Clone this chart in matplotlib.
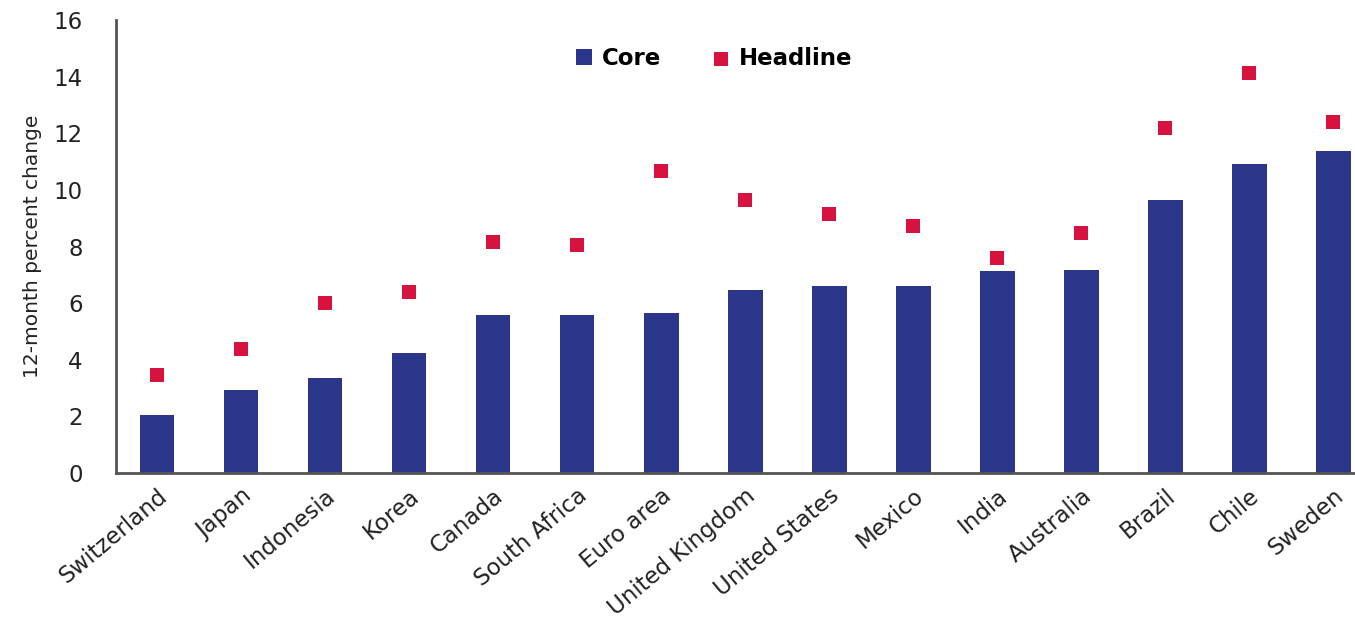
import numpy as np
from matplotlib import pyplot as plt

# data
countries = ['Switzerland', 'Japan', 'Indonesia', 'Korea', 'Canada', 'South Africa',
             'Euro area', 'United Kingdom', 'United States', 'Mexico', 'India',
             'Australia', 'Brazil', 'Chile', 'Sweden']
core = [2.05, 2.93, 3.36, 4.24, 5.58, 5.58, 5.65, 6.47, 6.61, 6.61, 7.14, 7.17, 9.65, 10.92, 11.38]
headline = [3.46, 4.38, 6.0, 6.4, 8.16, 8.06, 10.67, 9.65, 9.15, 8.73, 7.6, 8.48, 12.19, 14.13, 12.4]

navy = '#2b3589'
red = '#d8123e'

fig = plt.figure(figsize=(13.55, 6.38), dpi=100)
ax = fig.add_axes([0.0856, 0.2586, 0.914, 0.71])

x = np.arange(len(countries))
bars = ax.bar(x, core, width=0.41, color=navy, label='Core', zorder=2)
pts = ax.scatter(x, headline, marker='s', s=110, color=red, label='Headline', zorder=3,
                 linewidths=0)

ax.set_xlim(-0.49, 14.25)
ax.set_ylim(0, 16)
ax.set_yticks(np.arange(0, 17, 2))
ax.set_xticks(x)
ax.set_xticklabels(countries, rotation=40, ha='right', rotation_mode='anchor')
ax.tick_params(axis='both', length=0, labelsize=16.5, colors='#222222')
ax.tick_params(axis='y', pad=24)
ax.tick_params(axis='x', pad=8)

for s in ['top', 'right']:
    ax.spines[s].set_visible(False)
for s in ['left', 'bottom']:
    ax.spines[s].set_color('#555555')
    ax.spines[s].set_linewidth(2)

ax.set_ylabel('12-month percent change', fontsize=14.5, labelpad=8, color='#222222')

ax.legend([bars, pts], ['Core', 'Headline'], loc='center', bbox_to_anchor=(0.483, 0.916),
          ncol=2, frameon=False, prop={'size': 16.5, 'weight': 'bold'},
          handlelength=0.7, handleheight=0.7, columnspacing=2.3, handletextpad=0.4,
          scatterpoints=1, markerscale=1.0)

fig.savefig('out.png', dpi=100)
